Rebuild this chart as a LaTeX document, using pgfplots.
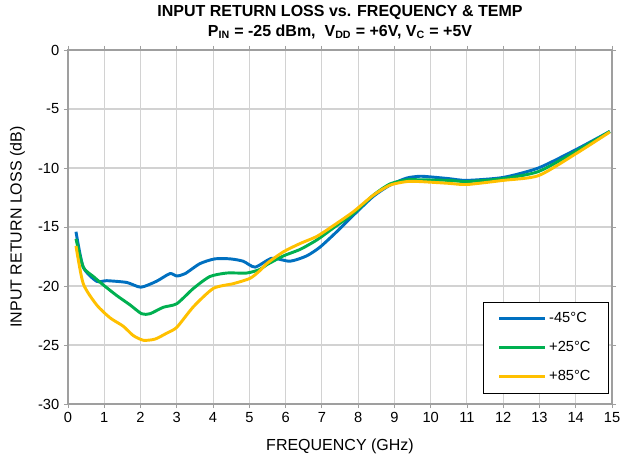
\documentclass[border=0pt]{standalone}
\usepackage{pgfplots}
\pgfplotsset{compat=1.18}
\usepackage{fontspec}
\setmainfont{Liberation Sans}
\definecolor{cblue}{HTML}{0070C0}
\definecolor{cgreen}{HTML}{00B050}
\definecolor{cyellow}{HTML}{FFC000}
\begin{document}
\begin{tikzpicture}
\path[use as bounding box] (-51pt,-45pt) rectangle (414pt,303pt);
\begin{axis}[
  scale only axis,
  width=408pt, height=265.5pt,
  xmin=0, xmax=15, ymin=-30, ymax=0,
  xtick={0,1,...,15}, ytick={-30,-25,...,0},
  /pgf/number format/assume math mode=true,
  tick label style={font=\fontsize{11}{13}\selectfont},
  label style={font=\fontsize{12}{14}\selectfont},
  xlabel={FREQUENCY (GHz)},
  ylabel={INPUT RETURN LOSS (dB)},
  xlabel style={yshift=-5pt},
  ylabel style={yshift=3pt},
  grid=major,
  grid style={gray!35, line width=0.8pt},
  axis line style={gray!75, line width=1.3pt},
  tick style={gray!75, line width=0.6pt},
  tick align=outside,
  major tick length=3pt,
  title={INPUT RETURN LOSS vs. FREQUENCY \& TEMP\\ P\textsubscript{IN} = -25 dBm,\ \ V\textsubscript{DD} = +6V, V\textsubscript{C} = +5V},
  title style={align=center, yshift=-1pt, font=\bfseries\fontsize{12}{14.5}\selectfont},
  legend style={at={(0.993,0.03)}, anchor=south east, draw=black, line width=0.5pt,
    font=\fontsize{11}{13}\selectfont, row sep=8.4pt, inner xsep=11pt, inner ysep=6pt},
  legend cell align=left,
  legend image code/.code={\draw[#1, line width=2.4pt] (0cm,0cm) -- (1.2cm,0cm);},
  every axis plot/.append style={line width=2.2pt, smooth, tension=0.4},
]
\addplot[cblue] coordinates {
(0.22,-15.4) (0.42,-18.4) (0.79,-19.6) (1.07,-19.55) (1.62,-19.7) (2.01,-20.1)
(2.44,-19.6) (2.81,-18.95) (3.0,-19.15) (3.23,-18.95) (3.64,-18.1) (4.05,-17.7)
(4.47,-17.7) (4.83,-17.9) (5.16,-18.4) (5.62,-17.65) (6.12,-17.9) (6.58,-17.45)
(6.95,-16.7) (7.41,-15.4) (7.87,-14.0) (8.42,-12.4) (8.88,-11.45) (9.34,-10.85)
(9.7,-10.7) (9.98,-10.75) (10.5,-10.9) (10.99,-11.05) (12.0,-10.8) (12.97,-10.0)
(14.0,-8.45) (14.94,-6.9)
};
\addlegendentry{-45°C}
\addplot[cgreen] coordinates {
(0.22,-16.0) (0.42,-18.4) (0.70,-19.2) (0.97,-19.9) (1.34,-20.8) (1.71,-21.6)
(2.03,-22.35) (2.26,-22.35) (2.63,-21.8) (3.0,-21.5) (3.46,-20.2) (3.91,-19.2)
(4.38,-18.9) (4.93,-18.9) (5.29,-18.6) (5.48,-18.2) (5.94,-17.45) (6.40,-16.9)
(6.86,-16.1) (7.31,-15.1) (7.87,-13.85) (8.42,-12.3) (8.88,-11.35) (9.34,-11.0)
(9.7,-11.0) (10.5,-11.05) (11.0,-11.15) (12.0,-10.9) (12.97,-10.3) (14.0,-8.6)
(14.94,-6.9)
};
\addlegendentry{+25°C}
\addplot[cyellow] coordinates {
(0.22,-16.6) (0.42,-19.8) (0.79,-21.6) (1.16,-22.7) (1.52,-23.4) (1.8,-24.2)
(2.08,-24.6) (2.4,-24.5) (2.72,-24.0) (3.0,-23.5) (3.46,-21.75) (4.01,-20.2)
(4.56,-19.8) (5.02,-19.35) (5.29,-18.7) (5.48,-18.1) (5.94,-17.1) (6.40,-16.4)
(6.86,-15.8) (7.31,-14.9) (7.87,-13.7) (8.42,-12.3) (8.88,-11.45) (9.34,-11.15)
(9.7,-11.15) (10.5,-11.3) (11.0,-11.4) (12.0,-11.05) (12.97,-10.65) (14.0,-8.8)
(14.94,-6.95)
};
\addlegendentry{+85°C}
\end{axis}
\end{tikzpicture}
\end{document}
